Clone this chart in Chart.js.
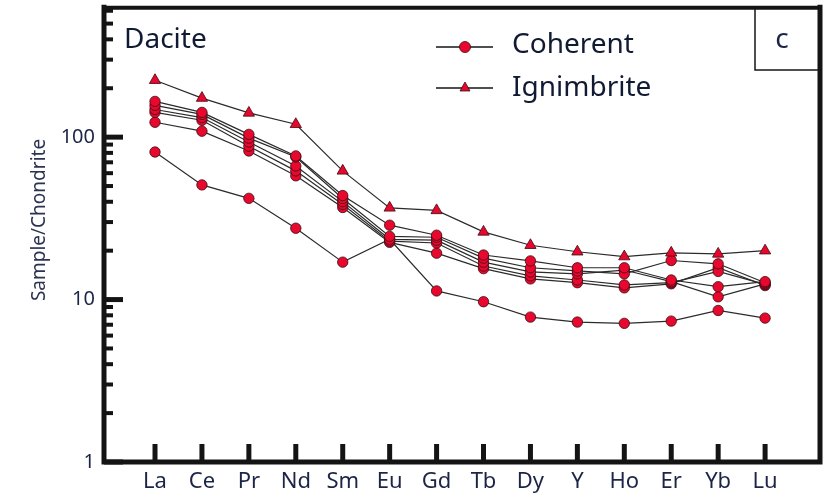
<!DOCTYPE html>
<html>
<head>
<meta charset="utf-8">
<script src="https://cdn.jsdelivr.net/npm/chart.js@4/dist/chart.umd.min.js"></script>
<style>
  html, body { margin: 0; padding: 0; background: #fff; }
  canvas { display: block; }
</style>
</head>
<body>
<canvas id="ree" width="833" height="499"></canvas>
<script>
// Chondrite-normalised rare earth element patterns, dacite samples
const elements = ['La', 'Ce', 'Pr', 'Nd', 'Sm', 'Eu', 'Gd', 'Tb', 'Dy', 'Y', 'Ho', 'Er', 'Yb', 'Lu'];

const coherentA = [166, 142, 104, 76.6, 43.7, 28.7, 24.9, 18.8, 17.3, 15.7, 15.7, 13.2, 12.0, 12.9];
const coherentB = [157, 138, 98.6, 75.5, 41.9, 24.5, 24.2, 18.0, 15.7, 15.0, 14.4, 17.4, 16.6, 12.7];
const coherentC = [148, 132, 93.3, 66.5, 40.1, 23.5, 23.2, 17.0, 14.8, 14.4, 15.2, 12.9, 10.4, 12.5];
const coherentD = [142, 127, 88.0, 62.0, 38.5, 22.9, 22.3, 16.1, 14.0, 13.2, 12.3, 12.7, 14.9, 12.4];
const coherentE = [123.5, 108.8, 82.2, 57.8, 36.9, 22.5, 19.3, 15.5, 13.4, 12.7, 11.8, 12.5, 15.7, 12.2];
const coherentF = [81, 50.8, 42, 27.5, 17.0, 23.5, 11.3, 9.7, 7.8, 7.27, 7.14, 7.37, 8.57, 7.69];
const ignimbrite = [224, 174, 141, 120, 62, 36.7, 35.4, 26.1, 21.6, 19.7, 18.4, 19.4, 19.1, 20.0];

const yTickValues = [1, 10, 100];
const yMinorValues = [2, 3, 4, 5, 6, 7, 8, 9, 20, 30, 40, 50, 60, 70, 80, 90, 200, 300, 400, 500, 600];

const FONT = "'Noto Sans', 'Open Sans', sans-serif";
const INK = '#141414';
const TEXT = '#1c2447';
const RED = '#e8072d';

function series(values) {
  return values.map((v, i) => ({ x: i, y: v }));
}

function lineSet(label, values, style) {
  const tri = style === 'triangle';
  return {
    label,
    data: series(values),
    borderColor: '#2b2b2b',
    borderWidth: 1.2,
    pointStyle: style,
    pointRadius: tri ? 6.5 : 5.2,
    pointBackgroundColor: RED,
    pointBorderColor: '#3a0d14',
    pointBorderWidth: 0.8,
    tension: 0,
    fill: false
  };
}

// keep the plot box fixed regardless of tick label sizes
function fixBox(size, key) {
  return s => {
    s[key] = size;
    s.paddingTop = 0;
    s.paddingBottom = 0;
    s.paddingLeft = 0;
    s.paddingRight = 0;
  };
}

// thick frame, inward ticks, panel annotations and legend
const decorations = {
  id: 'decorations',
  afterDraw(chart) {
    const { ctx, chartArea: a, scales: { x, y } } = chart;
    ctx.save();
    ctx.strokeStyle = INK;
    ctx.lineCap = 'butt';

    // inward category ticks
    ctx.lineWidth = 5;
    elements.forEach((_, i) => {
      const px = x.getPixelForValue(i);
      ctx.beginPath();
      ctx.moveTo(px, a.bottom);
      ctx.lineTo(px, a.bottom - 18);
      ctx.stroke();
    });
    // inward decade ticks
    yTickValues.forEach(v => {
      const py = y.getPixelForValue(v);
      ctx.beginPath();
      ctx.moveTo(a.left, py);
      ctx.lineTo(a.left + 19, py);
      ctx.stroke();
    });
    ctx.lineWidth = 4;
    yMinorValues.forEach(v => {
      const py = y.getPixelForValue(v);
      ctx.beginPath();
      ctx.moveTo(a.left, py);
      ctx.lineTo(a.left + 9, py);
      ctx.stroke();
    });

    // panel frame
    ctx.lineWidth = 5;
    ctx.lineCap = 'square';
    ctx.beginPath();
    ctx.moveTo(a.left, a.top);
    ctx.lineTo(a.left, a.bottom);
    ctx.lineTo(a.right, a.bottom);
    ctx.lineTo(a.right, a.top);
    ctx.stroke();
    ctx.lineWidth = 4;
    ctx.beginPath();
    ctx.moveTo(a.left, a.top + 0.5);
    ctx.lineTo(a.right, a.top + 0.5);
    ctx.stroke();

    // panel letter box
    ctx.lineCap = 'butt';
    ctx.lineWidth = 1.5;
    ctx.strokeRect(755, a.top, a.right - 755, 70 - a.top);
    ctx.fillStyle = TEXT;
    ctx.font = `28px ${FONT}`;
    ctx.textAlign = 'center';
    ctx.textBaseline = 'middle';
    ctx.fillText('c', 782, 40);

    // rock type label
    ctx.textAlign = 'left';
    ctx.textBaseline = 'alphabetic';
    ctx.fillStyle = '#111a33';
    ctx.font = `28px ${FONT}`;
    ctx.fillText('Dacite', 124, 48);

    // y axis title
    ctx.save();
    ctx.translate(40, 220);
    ctx.rotate(-Math.PI / 2);
    ctx.textAlign = 'center';
    ctx.textBaseline = 'middle';
    ctx.fillStyle = '#2b3350';
    ctx.font = `19px ${FONT}`;
    ctx.fillText('Sample/Chondrite', 0, 0);
    ctx.restore();

    // legend
    ctx.strokeStyle = INK;
    ctx.lineWidth = 1.5;
    [47, 88].forEach(ly => {
      ctx.beginPath();
      ctx.moveTo(436, ly);
      ctx.lineTo(493, ly);
      ctx.stroke();
    });
    ctx.fillStyle = RED;
    ctx.strokeStyle = '#3a0d14';
    ctx.lineWidth = 0.8;
    ctx.beginPath();
    ctx.arc(465, 47, 5.5, 0, Math.PI * 2);
    ctx.fill();
    ctx.stroke();
    ctx.beginPath();
    ctx.moveTo(465, 82);
    ctx.lineTo(470, 91);
    ctx.lineTo(460, 91);
    ctx.closePath();
    ctx.fill();
    ctx.stroke();

    ctx.fillStyle = '#111a33';
    ctx.font = `28px ${FONT}`;
    ctx.textAlign = 'left';
    ctx.textBaseline = 'alphabetic';
    ctx.fillText('Coherent', 512, 53);
    ctx.fillText('Ignimbrite', 512, 96);

    ctx.restore();
  }
};

new Chart(document.getElementById('ree'), {
  type: 'line',
  data: {
    datasets: [
      lineSet('Ignimbrite', ignimbrite, 'triangle'),
      lineSet('Coherent', coherentA, 'circle'),
      lineSet('Coherent', coherentB, 'circle'),
      lineSet('Coherent', coherentC, 'circle'),
      lineSet('Coherent', coherentD, 'circle'),
      lineSet('Coherent', coherentE, 'circle'),
      lineSet('Coherent', coherentF, 'circle')
    ]
  },
  options: {
    responsive: false,
    animation: false,
    devicePixelRatio: 1,
    layout: { padding: { left: 0, right: 13, top: 5, bottom: 0 } },
    plugins: { legend: { display: false }, tooltip: { enabled: false } },
    scales: {
      x: {
        type: 'linear',
        min: -1.087,
        max: 14.17,
        grid: { display: false, drawTicks: false },
        border: { display: false },
        afterBuildTicks: s => { s.ticks = elements.map((_, i) => ({ value: i })); },
        afterFit: fixBox(37, 'height'),
        ticks: {
          autoSkip: false,
          maxRotation: 0,
          padding: 7,
          color: TEXT,
          font: { family: FONT, size: 22 },
          callback: v => elements[v] ?? ''
        }
      },
      y: {
        type: 'logarithmic',
        min: 1,
        max: 630,
        grid: { display: false, drawTicks: false },
        border: { display: false },
        afterBuildTicks: s => { s.ticks = yTickValues.map(v => ({ value: v })); },
        afterFit: fixBox(104, 'width'),
        ticks: {
          padding: 9,
          color: TEXT,
          font: { family: FONT, size: 20 },
          callback: v => String(v)
        }
      }
    }
  },
  plugins: [decorations]
});
</script>
</body>
</html>
